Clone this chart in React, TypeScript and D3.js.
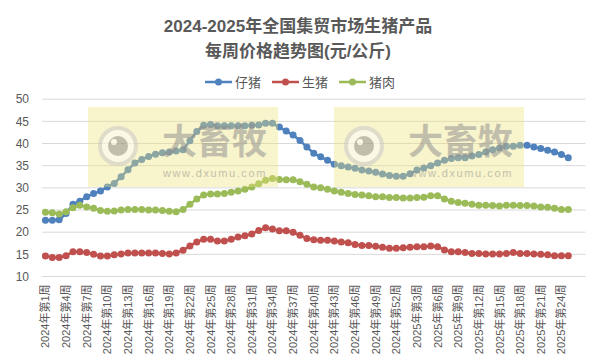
import React from 'react';
import * as d3 from 'd3';

// 2024 第1周 … 2025 第25周, plus two blank rows at the end of the sheet
const weeks2024 = d3.range(1, 53);
const weeks2025 = d3.range(1, 26);
const categories = [
  ...weeks2024.map(w => `2024年第${w}周`),
  ...weeks2025.map(w => `2025年第${w}周`),
  '', '',
];

const piglet = [
  22.7, 22.7, 22.8, 24.2, 26.3, 27.0, 28.0, 28.7, 29.3, 30.2,
  31.0, 32.5, 34.1, 35.6, 36.4, 37.1, 37.6, 37.9, 38.1, 38.3,
  38.6, 40.6, 42.7, 44.1, 44.3, 44.0, 44.0, 44.0, 44.0, 44.0,
  44.1, 44.2, 44.6, 44.6, 43.7, 42.8, 41.9, 40.7, 39.2, 37.8,
  37.0, 36.2, 35.3, 35.0, 34.7, 34.4, 34.0, 33.8, 33.5, 33.1,
  32.8, 32.6, 32.6, 33.2, 34.0, 34.5, 35.0, 35.6, 36.2, 36.6,
  36.8, 36.8, 37.2, 37.5, 38.1, 38.6, 39.0, 39.4, 39.4, 39.6,
  39.6, 39.2, 38.9, 38.5, 38.1, 37.5, 36.8,
];

const hog = [
  14.6, 14.3, 14.3, 14.7, 15.6, 15.6, 15.4, 15.0, 14.6, 14.6,
  14.9, 15.1, 15.3, 15.3, 15.3, 15.3, 15.3, 15.2, 15.1, 15.3,
  15.9, 16.9, 17.8, 18.4, 18.4, 18.0, 18.0, 18.4, 18.9, 19.2,
  19.6, 20.4, 21.0, 20.7, 20.3, 20.3, 20.0, 19.3, 18.6, 18.3,
  18.2, 18.2, 18.0, 17.8, 17.6, 17.2, 17.0, 17.0, 16.8, 16.6,
  16.4, 16.4, 16.5, 16.6, 16.7, 16.7, 16.9, 16.7, 16.0, 15.6,
  15.6, 15.4, 15.2, 15.2, 15.1, 15.1, 15.1, 15.2, 15.4, 15.2,
  15.2, 15.1, 15.0, 14.9, 14.7, 14.7, 14.7,
];

const pork = [
  24.5, 24.4, 24.1, 24.6, 25.5, 26.1, 25.7, 25.4, 24.9, 24.7,
  24.8, 25.0, 25.1, 25.1, 25.1, 25.0, 25.0, 24.9, 24.7, 24.6,
  25.1, 26.3, 27.5, 28.4, 28.6, 28.6, 28.7, 29.0, 29.3, 29.7,
  30.2, 30.9, 31.7, 32.1, 31.9, 31.8, 31.8, 31.4, 30.8, 30.2,
  30.0, 29.7, 29.3, 29.0, 28.7, 28.5, 28.4, 28.2, 28.0, 28.0,
  27.8, 27.8, 27.7, 27.7, 27.8, 27.9, 28.2, 28.2, 27.5, 27.0,
  26.7, 26.5, 26.3, 26.1, 26.1, 26.0, 25.9, 26.1, 26.1, 26.0,
  26.0, 25.9, 25.7, 25.6, 25.4, 25.1, 25.1,
];

const seriesNames = ['仔猪', '生猪', '猪肉'];
const seriesColors = ['#4f81bd', '#c0504d', '#9bbb59'];
const yTicks = [10, 15, 20, 25, 30, 35, 40, 45, 50];

const FONT = '"Liberation Sans", "Noto Sans CJK SC", sans-serif';
const TEXT = '#595959';

// the site's watermark sits over the plot, semi-transparent
const Watermark = ({ x, y }: { x: number; y: number }) => (
  <g transform={`translate(${x},${y})`}>
    <rect width={190} height={80} fill="#ece27a" opacity={0.38} />
    <g opacity={0.5}>
      <circle cx={30} cy={39} r={18} fill="#fff" stroke="#c8c8c8" strokeWidth={4} />
      <circle cx={30} cy={39} r={10} fill="#8c8c8c" />
      <circle cx={26} cy={35} r={3} fill="#fff" />
      <text x={74} y={47} fontSize={35} fontWeight="bold" fill="#8c8c8c"
        fontFamily='"Noto Sans CJK SC", sans-serif'>大畜牧</text>
      <text x={75} y={70} fontSize={11} fill="#8c8c8c" fontFamily={FONT} letterSpacing={1.6}>www.dxumu.com</text>
    </g>
  </g>
);

export default function App() {
  const width = 596, height = 363;
  const left = 42, right = 585.5, top = 99.2, bottom = 276.5;

  const x = d3.scaleBand<number>().domain(d3.range(categories.length)).range([left, right]).padding(0);
  const cx = (i: number) => (x(i) as number) + x.bandwidth() / 2;
  const y = d3.scaleLinear().domain([10, 50]).range([bottom, top]);

  const line = d3.line<number>().x((_, i) => cx(i)).y(d => y(d));
  const allSeries = [piglet, hog, pork];

  const legendX = [205, 272, 339];

  return (
    <div style={{ position: 'absolute', left: 0, top: 0 }}>
      <svg width={width} height={height} style={{ display: 'block', background: '#fff' }}>
        <text x={298} y={32} textAnchor="middle" fontSize={17} fontWeight="bold" fill={TEXT} fontFamily={FONT}>
          2024-2025年全国集贸市场生猪产品
        </text>
        <text x={298} y={57} textAnchor="middle" fontSize={17} fontWeight="bold" fill={TEXT} fontFamily={FONT}>
          每周价格趋势图(元/公斤)
        </text>

        {seriesNames.map((name, k) => (
          <g key={name} transform={`translate(${legendX[k]},82)`}>
            <line x1={0} x2={27} stroke={seriesColors[k]} strokeWidth={2.5} />
            <circle cx={13.5} r={3.5} fill={seriesColors[k]} />
            <text x={30} dy="0.35em" fontSize={13} fill={TEXT} fontFamily={FONT}>{name}</text>
          </g>
        ))}

        {yTicks.map(t => (
          <g key={t}>
            <line x1={left} x2={right} y1={y(t)} y2={y(t)} stroke="#d9d9d9" strokeWidth={1} />
            <text x={29} y={y(t)} dy="0.35em" textAnchor="end" fontSize={12} fill={TEXT} fontFamily={FONT}>{t}</text>
          </g>
        ))}

        {categories.map((c, i) => (i % 3 === 0 && c ? (
          <text key={i} transform={`translate(${cx(i) + 4},${bottom + 8}) rotate(-90)`}
            textAnchor="end" fontSize={11} fill={TEXT} fontFamily={FONT}>{c}</text>
        ) : null))}

        {allSeries.map((s, k) => (
          <g key={k}>
            <path d={line(s) ?? ''} fill="none" stroke={seriesColors[k]} strokeWidth={2.5} />
            {s.map((v, i) => (
              <circle key={i} cx={cx(i)} cy={y(v)} r={3.5} fill={seriesColors[k]} />
            ))}
          </g>
        ))}

        <Watermark x={88} y={107} />
        <Watermark x={334} y={107} />
      </svg>
    </div>
  );
}
